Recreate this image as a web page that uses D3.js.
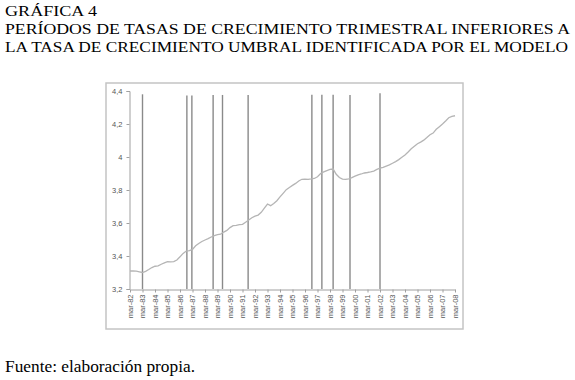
<!DOCTYPE html>
<html><head><meta charset="utf-8">
<script src="https://cdn.jsdelivr.net/npm/d3@7/dist/d3.min.js"></script>
<style>body{margin:0;background:#fff}svg{display:block}</style>
</head><body>
<svg id="c" width="575" height="380"></svg>
<script>
// Quarterly series, mar-82 .. mar-08 (one value per quarter)
const startYear = 1982;
const seriesValues = [
 3.309,3.310,3.308,3.304,3.300,3.307,3.318,3.330,3.338,3.340,
 3.350,3.358,3.366,3.364,3.366,3.376,3.395,3.416,3.430,3.433,
 3.440,3.462,3.476,3.488,3.497,3.505,3.515,3.524,3.530,3.532,
 3.545,3.555,3.572,3.584,3.586,3.590,3.592,3.605,3.618,3.632,
 3.642,3.648,3.665,3.690,3.715,3.705,3.718,3.735,3.758,3.780,
 3.802,3.815,3.828,3.840,3.855,3.865,3.866,3.865,3.867,3.870,
 3.880,3.900,3.910,3.918,3.925,3.927,3.895,3.876,3.866,3.864,
 3.868,3.875,3.884,3.892,3.897,3.903,3.906,3.910,3.915,3.925,
 3.932,3.937,3.945,3.952,3.962,3.972,3.984,3.998,4.012,4.030,
 4.050,4.065,4.080,4.090,4.102,4.118,4.135,4.145,4.168,4.184,
 4.200,4.218,4.238,4.246,4.250
];
// Periods with growth below the threshold (decimal year) and bar heights
const lowPeriods = [1983.0,1986.55,1986.95,1988.65,1989.4,1991.45,1996.55,1997.35,1998.25,1999.6,2002.0];
const lowHeights = [4.38,4.372,4.372,4.376,4.376,4.376,4.378,4.378,4.378,4.376,4.386];
const xTickLabels = ["mar-82","mar-83","mar-84","mar-85","mar-86","mar-87","mar-88","mar-89","mar-90","mar-91","mar-92","mar-93","mar-94","mar-95","mar-96","mar-97","mar-98","mar-99","mar-00","mar-01","mar-02","mar-03","mar-04","mar-05","mar-06","mar-07","mar-08"];
const yTicks = [3.2,3.4,3.6,3.8,4.0,4.2,4.4];
const titleLines = ["GRÁFICA 4","PERÍODOS DE TASAS DE CRECIMIENTO TRIMESTRAL INFERIORES A","LA TASA DE CRECIMIENTO UMBRAL IDENTIFICADA POR EL MODELO"];
const sourceText = "Fuente: elaboración propia.";

const svg = d3.select("#c");
const serif = "'Liberation Serif','Times New Roman',serif";

// titles
svg.append("text").attr("x",5).attr("y",16).attr("font-family",serif).attr("font-size",15.5)
  .attr("textLength",92).attr("lengthAdjust","spacingAndGlyphs").text(titleLines[0]);
svg.append("text").attr("x",5).attr("y",34).attr("font-family",serif).attr("font-size",15.5)
  .attr("textLength",565).attr("lengthAdjust","spacingAndGlyphs").text(titleLines[1]);
svg.append("text").attr("x",5).attr("y",52).attr("font-family",serif).attr("font-size",15.5)
  .attr("textLength",563).attr("lengthAdjust","spacingAndGlyphs").text(titleLines[2]);
svg.append("text").attr("x",5).attr("y",372).attr("font-family",serif).attr("font-size",16.5)
  .attr("textLength",190).attr("lengthAdjust","spacingAndGlyphs").text(sourceText);

// chart frame
svg.append("rect").attr("x",106).attr("y",83).attr("width",357).attr("height",246)
  .attr("fill","#fff").attr("stroke","#c4c4c4").attr("stroke-width",1.5);

const x = d3.scaleLinear().domain([1982,2008]).range([130,455]);
const y = d3.scaleLinear().domain([3.2,4.4]).range([289,91]);

const data = seriesValues.map((v,i)=>({t:startYear+i/4, v}));

// y axis
const yAxis = d3.axisLeft(y).tickValues(yTicks).tickSize(3).tickPadding(4)
  .tickFormat(d=>d3.format(".1f")(d).replace(/\.0$/,"").replace(".",","));
const gy = svg.append("g").attr("transform","translate(129.5,0)").call(yAxis);
gy.select(".domain").attr("stroke","#a0a0a0");
gy.selectAll(".tick line").attr("stroke","#a0a0a0");
gy.selectAll("text").attr("font-family","'Liberation Sans',Arial,sans-serif").attr("font-size",7.5).attr("fill","#555");

// x axis
const xAxis = d3.axisBottom(x).tickValues(d3.range(1982,2009)).tickSize(3).tickSizeOuter(0)
  .tickFormat((d,i)=>xTickLabels[i]);
const gx = svg.append("g").attr("transform","translate(0,289.5)").call(xAxis);
gx.select(".domain").attr("stroke","#a0a0a0");
gx.selectAll(".tick line").attr("stroke","#a0a0a0");
gx.selectAll("text").attr("font-family","'Liberation Sans',Arial,sans-serif").attr("font-size",7.5).attr("fill","#555")
  .attr("transform","rotate(-90)").attr("text-anchor","end").attr("y",0).attr("x",-5)
  .attr("dy","0.32em");

// vertical lines for low-growth periods
svg.append("g").selectAll("line").data(lowPeriods).join("line")
  .attr("x1",d=>x(d)).attr("x2",d=>x(d))
  .attr("y1",y(3.2)).attr("y2",(d,i)=>y(lowHeights[i]))
  .attr("stroke","#8a8a8a").attr("stroke-width",1.4);

// series line
svg.append("path").datum(data)
  .attr("d",d3.line().x(d=>x(d.t)).y(d=>y(d.v)))
  .attr("fill","none").attr("stroke","#b5b5b5").attr("stroke-width",1.3);
</script>
</body></html>
